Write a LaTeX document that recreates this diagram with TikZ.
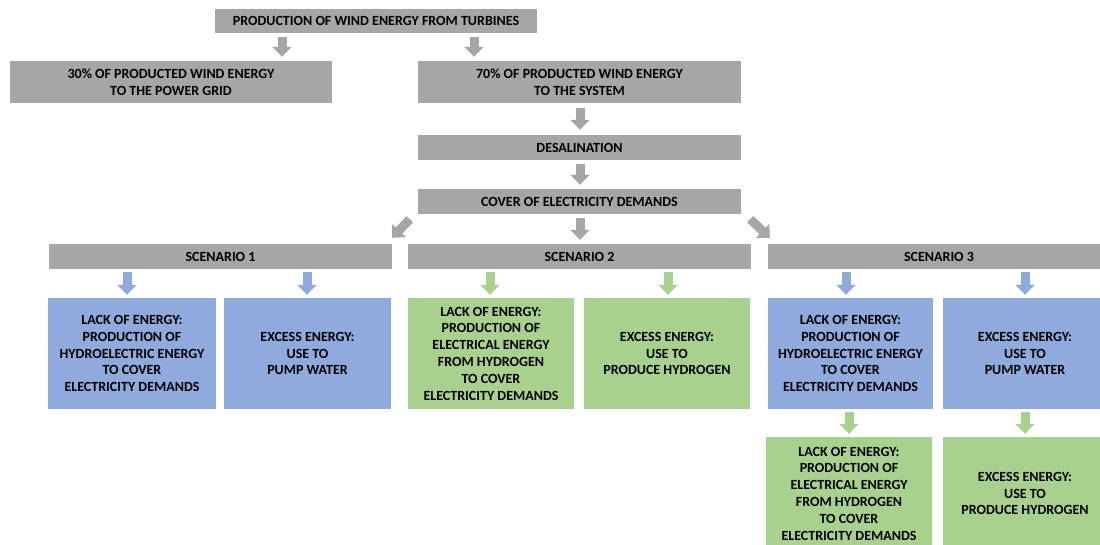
\documentclass[tikz,border=0pt]{standalone}
\usepackage{fontspec}
\setmainfont{Carlito}
\usetikzlibrary{arrows.meta,calc}
\definecolor{boxgray}{HTML}{A6A6A6}
\definecolor{boxblue}{HTML}{8FAADC}
\definecolor{boxgreen}{HTML}{A9D18E}
\tikzset{
  box/.style={rectangle, inner sep=0pt, align=center, text=black,
    font=\fontsize{14}{16.8}\selectfont\bfseries},
  gbox/.style={box, fill=boxgray},
  bbox/.style={box, fill=boxblue},
  grbox/.style={box, fill=boxgreen},
  blockarrow/.style={line width=9pt, -{Triangle[width=19pt,length=10pt]}},
  garr/.style={blockarrow, draw=boxgray},
  barr/.style={blockarrow, draw=boxblue},
  grarr/.style={blockarrow, draw=boxgreen},
}
\begin{document}
\begin{tikzpicture}[x=1pt,y=-1pt]
\useasboundingbox (0,0) rectangle (1100,544);
\clip (0,0) rectangle (1100,544);
% gray boxes
\node[gbox, minimum width=322, minimum height=24] (top) at (376,21) {PRODUCTION OF WIND ENERGY FROM TURBINES};
\node[gbox, minimum width=322, minimum height=42] (p30) at (171,82) {30\% OF PRODUCTED WIND ENERGY\\TO THE POWER GRID};
\node[gbox, minimum width=323, minimum height=42] (p70) at (579.5,82) {70\% OF PRODUCTED WIND ENERGY\\TO THE SYSTEM};
\node[gbox, minimum width=323, minimum height=25] (desal) at (579.5,147.5) {DESALINATION};
\node[gbox, minimum width=323, minimum height=25] (cover) at (579.5,201.5) {COVER OF ELECTRICITY DEMANDS};
\node[gbox, minimum width=343, minimum height=25] (s1) at (220.5,256.5) {SCENARIO 1};
\node[gbox, minimum width=343, minimum height=25] (s2) at (579.5,256.5) {SCENARIO 2};
\node[gbox, minimum width=342, minimum height=25] (s3) at (939,256.5) {SCENARIO 3};
% scenario boxes
\node[bbox, minimum width=168, minimum height=111] (b1) at (132,353.5) {LACK OF ENERGY:\\PRODUCTION OF\\HYDROELECTRIC ENERGY\\TO COVER\\ELECTRICITY DEMANDS};
\node[bbox, minimum width=167, minimum height=111] (b2) at (307.5,353.5) {EXCESS ENERGY:\\USE TO\\PUMP WATER};
\node[grbox, minimum width=166, minimum height=111] (g1) at (491,353.5) {LACK OF ENERGY:\\PRODUCTION OF\\ELECTRICAL ENERGY\\FROM HYDROGEN\\TO COVER\\ELECTRICITY DEMANDS};
\node[grbox, minimum width=166, minimum height=111] (g2) at (667,353.5) {EXCESS ENERGY:\\USE TO\\PRODUCE HYDROGEN};
\node[bbox, minimum width=165, minimum height=111] (b3) at (850.5,353.5) {LACK OF ENERGY:\\PRODUCTION OF\\HYDROELECTRIC ENERGY\\TO COVER\\ELECTRICITY DEMANDS};
\node[bbox, minimum width=164, minimum height=111] (b4) at (1025,353.5) {EXCESS ENERGY:\\USE TO\\PUMP WATER};
\node[grbox, minimum width=166, minimum height=113] (g3) at (849,493.5) {LACK OF ENERGY:\\PRODUCTION OF\\ELECTRICAL ENERGY\\FROM HYDROGEN\\TO COVER\\ELECTRICITY DEMANDS};
\node[grbox, minimum width=164, minimum height=113] (g4) at (1025,493.5) {EXCESS ENERGY:\\USE TO\\PRODUCE HYDROGEN};
% arrow columns
\coordinate (xa) at (282,0);
\coordinate (xb) at (474,0);
\coordinate (xc) at (580,0);
\coordinate (x1) at (127,0);
\coordinate (x2) at (307,0);
\coordinate (x3) at (490,0);
\coordinate (x4) at (668,0);
\coordinate (x5) at (846,0);
\coordinate (x6) at (1025,0);
% gray arrows
\draw[garr] ($(top.south -| xa)+(0,4)$) -- ($(p30.north -| xa)+(0,-4)$);
\draw[garr] ($(top.south -| xb)+(0,4)$) -- ($(p70.north -| xb)+(0,-4)$);
\draw[garr] ($(p70.south -| xc)+(0,5)$) -- ($(desal.north -| xc)+(0,-5)$);
\draw[garr] ($(desal.south -| xc)+(0,4)$) -- ($(cover.north -| xc)+(0,-4)$);
\draw[garr] ($(cover.south -| xc)+(0,4)$) -- ($(s2.north -| xc)+(0,-4)$);
\draw[garr] ($(cover.south west)+(-8,5)$) -- ($(s1.north east)+(0,-6)$);
\draw[garr] ($(cover.south east)+(9,5)$) -- ($(s3.north west)+(2,-6)$);
% scenario arrows
\draw[barr] ($(s1.south -| x1)+(0,3)$) -- ($(b1.north -| x1)+(0,-3)$);
\draw[barr] ($(s1.south -| x2)+(0,3)$) -- ($(b2.north -| x2)+(0,-3)$);
\draw[grarr] ($(s2.south -| x3)+(0,3)$) -- ($(g1.north -| x3)+(0,-3)$);
\draw[grarr] ($(s2.south -| x4)+(0,3)$) -- ($(g2.north -| x4)+(0,-3)$);
\draw[barr] ($(s3.south -| x5)+(0,3)$) -- ($(b3.north -| x5)+(0,-3)$);
\draw[barr] ($(s3.south -| x6)+(0,3)$) -- ($(b4.north -| x6)+(0,-3)$);
\draw[grarr] ($(b3.south -| g3.north)+(0,3)$) -- ($(g3.north)+(0,-3)$);
\draw[grarr] ($(b4.south -| x6)+(0,3)$) -- ($(g4.north -| x6)+(0,-3)$);
\end{tikzpicture}
\end{document}
